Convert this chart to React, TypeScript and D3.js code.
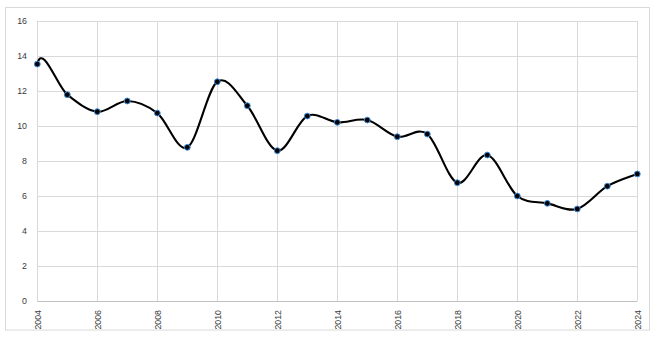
import React from "react";
import * as d3 from "d3";

const years: number[] = [2004, 2005, 2006, 2007, 2008, 2009, 2010, 2011, 2012, 2013, 2014, 2015, 2016, 2017, 2018, 2019, 2020, 2021, 2022, 2023, 2024];
const values: number[] = [13.54, 11.79, 10.82, 11.43, 10.74, 8.78, 12.53, 11.16, 8.59, 10.57, 10.21, 10.34, 9.39, 9.54, 6.76, 8.34, 6.0, 5.58, 5.26, 6.56, 7.26];
const yTicks: number[] = [0, 2, 4, 6, 8, 10, 12, 14, 16];
const xTicks: number[] = [2004, 2006, 2008, 2010, 2012, 2014, 2016, 2018, 2020, 2022, 2024];

const W = 660;
const H = 338;
const left = 37.3;
const right = 637.3;
const top = 21;
const bottom = 301;

// Excel-like smooth curve (Bezier with 1/6 tangents)
function excelCurve(context: any) {
  let pts: [number, number][] = [];
  return {
    areaStart() {},
    areaEnd() {},
    lineStart() {
      pts = [];
    },
    point(x: number, y: number) {
      pts.push([+x, +y]);
    },
    lineEnd() {
      const n = pts.length;
      if (!n) return;
      context.moveTo(pts[0][0], pts[0][1]);
      for (let i = 0; i < n - 1; i++) {
        const p0 = pts[Math.max(0, i - 1)];
        const p1 = pts[i];
        const p2 = pts[i + 1];
        const p3 = pts[Math.min(n - 1, i + 2)];
        let c1x = p1[0] + (p2[0] - p0[0]) / 6;
        let c1y = p1[1] + (p2[1] - p0[1]) / 6;
        const c2x = p2[0] - (p3[0] - p1[0]) / 6;
        const c2y = p2[1] - (p3[1] - p1[1]) / 6;
        if (i === 0) {
          c1x = p1[0] + (p2[0] - p1[0]) * 0.18;
          c1y = p1[1] - 0.95 * (c2y - p1[1]);
        }
        context.bezierCurveTo(c1x, c1y, c2x, c2y, p2[0], p2[1]);
      }
    },
  };
}

export default function App() {
  const x = d3.scaleLinear().domain([2004, 2024]).range([left, right]);
  const y = d3.scaleLinear().domain([0, 16]).range([bottom, top]);
  const data = years.map((yr, i) => ({ yr, v: values[i] }));
  const line = d3
    .line<{ yr: number; v: number }>()
    .x((d) => x(d.yr))
    .y((d) => y(d.v))
    .curve(excelCurve as any);
  const font = "'Liberation Sans', Arial, sans-serif";
  const textColor = "#3a3a3a";
  return (
    <svg width={W} height={H} style={{ position: "absolute", left: 0, top: 0, background: "#fff" }}>
      <rect x={0} y={0} width={W} height={H} fill="#fff" />
      <rect x={5.5} y={7.5} width={644} height={322.5} fill="none" stroke="#d9d9d9" strokeWidth={1} />
      {yTicks.map((t) => (
        <line key={"gy" + t} x1={left} x2={right} y1={Math.round(y(t)) + 0.5} y2={Math.round(y(t)) + 0.5} stroke={t === 0 ? "#bfbfbf" : "#d9d9d9"} strokeWidth={1} />
      ))}
      {xTicks.map((t) => (
        <line key={"gx" + t} x1={Math.round(x(t)) + 0.5} x2={Math.round(x(t)) + 0.5} y1={top} y2={bottom} stroke="#d9d9d9" strokeWidth={1} />
      ))}
      {yTicks.map((t) => (
        <text key={"ty" + t} x={27} y={y(t)} dy="0.35em" textAnchor="end" fontFamily={font} fontSize={8.8} fill={textColor}>
          {t}
        </text>
      ))}
      {xTicks.map((t) => (
        <text
          key={"tx" + t}
          transform={`translate(${x(t) + 1},310) rotate(-90)`}
          textAnchor="end"
          dy="0.35em"
          fontFamily={font}
          fontSize={8.8}
          fill={textColor}
        >
          {t}
        </text>
      ))}
      <path d={line(data) || ""} fill="none" stroke="#000" strokeWidth={2.1} />
      {data.map((d) => (
        <circle key={d.yr} cx={x(d.yr)} cy={y(d.v)} r={2.9} fill="#000" stroke="#3b8fe0" strokeWidth={1} />
      ))}
    </svg>
  );
}
